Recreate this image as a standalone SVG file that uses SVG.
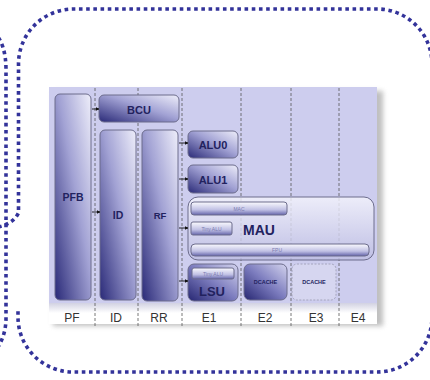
<svg xmlns="http://www.w3.org/2000/svg" width="430" height="380" viewBox="0 0 430 380">
  <defs>
    <style>
      .dots { fill: none; stroke: #33339a; stroke-width: 3.6; stroke-dasharray: 3.6 3.6; }
      .stage { fill: none; stroke: #555; stroke-width: 0.8; stroke-dasharray: 3 2; }
      .blk { stroke: #6c6c8c; stroke-width: 1; }
      .lbl { font-family: "Liberation Sans", Arial, sans-serif; font-weight: bold; fill: #22225e; text-anchor: middle; }
      .tiny { font-family: "Liberation Sans", Arial, sans-serif; font-size: 5px; fill: #7c7cb0; text-anchor: middle; }
      .stg { font-family: "Liberation Sans", Arial, sans-serif; font-size: 12px; fill: #333; text-anchor: middle; }
      .wire { stroke: #111; stroke-width: 0.9; fill: none; marker-end: url(#ah); }
    </style>
    <linearGradient id="gCol" x1="1" y1="0" x2="0" y2="1">
      <stop offset="0" stop-color="#eeeefa"/>
      <stop offset="0.45" stop-color="#a2a2d4"/>
      <stop offset="1" stop-color="#2a2a78"/>
    </linearGradient>
    <linearGradient id="gDark" x1="1" y1="0" x2="0" y2="1">
      <stop offset="0" stop-color="#d4d4ee"/>
      <stop offset="0.5" stop-color="#7c7cbe"/>
      <stop offset="1" stop-color="#262672"/>
    </linearGradient>
    <linearGradient id="gMau" x1="0" y1="0" x2="0" y2="1">
      <stop offset="0" stop-color="#f4f4fc"/>
      <stop offset="1" stop-color="#bcbce2"/>
    </linearGradient>
    <linearGradient id="gBar" x1="0" y1="0" x2="0" y2="1">
      <stop offset="0" stop-color="#fafafe"/>
      <stop offset="0.6" stop-color="#c0c0e4"/>
      <stop offset="1" stop-color="#6464aa"/>
    </linearGradient>
    <linearGradient id="gStrip" x1="0" y1="0" x2="0" y2="1">
      <stop offset="0" stop-color="#d2d2e2"/>
      <stop offset="1" stop-color="#ffffff"/>
    </linearGradient>
    <filter id="shadow" x="-10%" y="-10%" width="120%" height="120%">
      <feGaussianBlur stdDeviation="2.5"/>
    </filter>
    <marker id="ah" viewBox="0 0 6 6" refX="5.5" refY="3" markerWidth="4" markerHeight="4" orient="auto">
      <path d="M0,0 L6,3 L0,6 z" fill="#111"/>
    </marker>
  </defs>

  <rect width="430" height="380" fill="#ffffff"/>

  <!-- dotted outlines -->
  <g id="outline">
    <path class="dots" d="M -2,227 Q 13,224 18.5,213 L 18.5,64 A 55 55 0 0 1 73.5,9 L 377,9 A 55 55 0 0 1 432,64 L 432,317 A 55 55 0 0 1 377,372 L 73,372 A 55 55 0 0 1 18,317 L 18,310"/>
    <path class="dots" d="M -6,32 Q 6,44 6,70 L 6,318 Q 6,336 -4,350"/>
  </g>

  <!-- pipeline panel -->
  <g id="panel">
    <rect x="53" y="91" width="330" height="235" fill="#8a8a8a" opacity="0.55" filter="url(#shadow)"/>
    <rect x="49" y="87" width="328" height="237" fill="#ffffff"/>
    <rect x="49" y="87" width="328" height="216" fill="#cdcdee"/>
    <rect x="49" y="303" width="328" height="10" fill="url(#gStrip)"/>
  </g>

  <!-- stage boundaries -->
  <g id="stages">
    <line class="stage" x1="95" y1="88" x2="95" y2="326"/>
    <line class="stage" x1="138" y1="88" x2="138" y2="326"/>
    <line class="stage" x1="182" y1="88" x2="182" y2="326"/>
    <line class="stage" x1="241" y1="88" x2="241" y2="326"/>
    <line class="stage" x1="291" y1="88" x2="291" y2="326"/>
    <line class="stage" x1="339" y1="88" x2="339" y2="326"/>
  </g>

  <g id="pfb">
    <rect class="blk" x="55" y="94" width="36" height="206" rx="5" fill="url(#gCol)"/>
    <text class="lbl" x="73" y="201" font-size="10.5">PFB</text>
  </g>
  <g id="bcu">
    <rect class="blk" x="99" y="95" width="80" height="27" rx="5" fill="url(#gCol)"/>
    <text class="lbl" x="139" y="113.5" font-size="11">BCU</text>
  </g>
  <g id="id">
    <rect class="blk" x="100" y="130" width="36" height="170" rx="5" fill="url(#gCol)"/>
    <text class="lbl" x="118" y="219" font-size="10.5">ID</text>
  </g>
  <g id="rf">
    <rect class="blk" x="142" y="130" width="36" height="171" rx="5" fill="url(#gCol)"/>
    <text class="lbl" x="160" y="219" font-size="9.5">RF</text>
  </g>
  <g id="alu0">
    <rect class="blk" x="188" y="131" width="50" height="27" rx="5" fill="url(#gCol)"/>
    <text class="lbl" x="213" y="149" font-size="11">ALU0</text>
  </g>
  <g id="alu1">
    <rect class="blk" x="188" y="165" width="50" height="28" rx="5" fill="url(#gCol)"/>
    <text class="lbl" x="213" y="184" font-size="11">ALU1</text>
  </g>
  <g id="mau">
    <rect class="blk" x="188" y="197" width="186" height="63" rx="10" fill="url(#gMau)" fill-opacity="0.82"/>
    <text class="lbl" x="259" y="235" font-size="14">MAU</text>
    <g id="mac">
      <rect class="blk" x="191" y="202" width="96" height="13" rx="3" fill="url(#gBar)" stroke-width="0.7"/>
      <text class="tiny" x="239" y="210.5">MAC</text>
    </g>
    <g id="mau-tiny-alu">
      <rect class="blk" x="191" y="222" width="41" height="13" rx="2" fill="url(#gBar)" stroke-width="0.7"/>
      <text class="tiny" x="211.5" y="230.5">Tiny ALU</text>
    </g>
    <g id="fpu">
      <rect class="blk" x="191" y="244" width="178" height="12" rx="4" fill="url(#gBar)" stroke-width="0.7"/>
      <text class="tiny" x="277" y="252">FPU</text>
    </g>
  </g>
  <g id="lsu">
    <rect class="blk" x="188" y="264" width="50" height="37" rx="6" fill="url(#gDark)"/>
    <rect class="blk" x="192" y="268" width="42" height="11" rx="2" fill="url(#gBar)" stroke-width="0.7"/>
    <text class="tiny" x="213" y="275.5">Tiny ALU</text>
    <text class="lbl" x="212" y="296" font-size="13">LSU</text>
  </g>
  <g id="dcache-e2">
    <rect class="blk" x="244" y="264" width="43" height="36" rx="6" fill="url(#gDark)"/>
    <text class="lbl" x="265.5" y="284" font-size="5.5">DCACHE</text>
  </g>
  <g id="dcache-e3">
    <rect x="292" y="264" width="44" height="36" rx="5" fill="#d6d6f0" stroke="#9a9ab0" stroke-width="0.8" stroke-dasharray="2 1.5"/>
    <text class="lbl" x="314" y="284" font-size="5.5">DCACHE</text>
  </g>

  <!-- connectors -->
  <g id="connectors">
    <line class="wire" x1="92" y1="109" x2="99" y2="109"/>
    <line class="wire" x1="92" y1="212" x2="100" y2="212"/>
    <line class="wire" x1="179" y1="143" x2="188" y2="143"/>
    <line class="wire" x1="179" y1="179" x2="188" y2="179"/>
    <line class="wire" x1="179" y1="228" x2="188" y2="228"/>
    <line class="wire" x1="179" y1="281" x2="188" y2="281"/>
  </g>

  <!-- stage names -->
  <g id="stage-labels">
    <text class="stg" x="72" y="322">PF</text>
    <text class="stg" x="116" y="322">ID</text>
    <text class="stg" x="159" y="322">RR</text>
    <text class="stg" x="209" y="322">E1</text>
    <text class="stg" x="265" y="322">E2</text>
    <text class="stg" x="316" y="322">E3</text>
    <text class="stg" x="358" y="322">E4</text>
  </g>
</svg>
